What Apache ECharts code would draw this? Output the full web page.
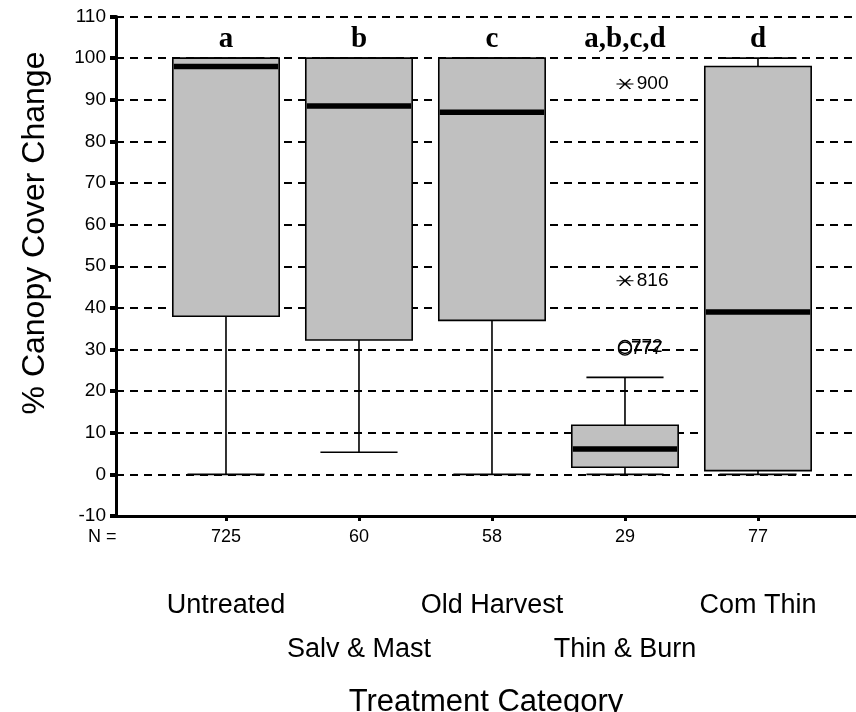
<!DOCTYPE html>
<html>
<head>
<meta charset="utf-8">
<script src="https://cdn.jsdelivr.net/npm/echarts@6/dist/echarts.min.js"></script>
<style>html,body{margin:0;padding:0;background:#fff;}#c{width:856px;height:712px;}</style>
</head>
<body>
<div id="c"></div>
<script>
// ---- data ----
var categories = ['Untreated', 'Salv & Mast', 'Old Harvest', 'Thin & Burn', 'Com Thin'];
var nCounts = ['725', '60', '58', '29', '77'];
// [low whisker, Q1, median, Q3, high whisker]
var boxStats = [
  [0, 38, 98, 100, 100],
  [5.3, 32.3, 88.5, 100, 100],
  [0, 37, 87, 100, 100],
  [0, 1.7, 6.1, 11.8, 23.3],
  [0, 0.9, 39, 98, 100]
];
var groupLetters = ['a', 'b', 'c', 'a,b,c,d', 'd'];
var extremes = [[4, 93.8, '900'], [4, 46.5, '816']];        // stars
var outliers = [[4, 30.2, '777'], [4, 30.6, '772']];        // circles
var yTicks = { min: -10, max: 110, step: 10 };

var xMin = 0.173, xMax = 5.737;
var positions = categories.map(function (c, i) { return i + 1; });

var chart = echarts.init(document.getElementById('c'), null, { renderer: 'canvas' });
var sans = 'Liberation Sans';

var boxData = boxStats.map(function (s, i) { return [i + 1].concat(s); });

function renderBox(params, api) {
  var x = api.value(0);
  var lo = api.coord([x, api.value(1)]);
  var q1 = api.coord([x, api.value(2)]);
  var md = api.coord([x, api.value(3)]);
  var q3 = api.coord([x, api.value(4)]);
  var hi = api.coord([x, api.value(5)]);
  var bw = api.size([0.8, 0])[0];
  var cw = api.size([0.58, 0])[0];
  var cx = q1[0];
  var ls = { stroke: '#000', lineWidth: 1.6 };
  var children = [];
  children.push({ type: 'line', shape: { x1: cx, y1: lo[1], x2: cx, y2: q1[1] }, style: ls });
  children.push({ type: 'line', shape: { x1: cx, y1: q3[1], x2: cx, y2: hi[1] }, style: ls });
  children.push({ type: 'line', shape: { x1: cx - cw / 2, y1: lo[1], x2: cx + cw / 2, y2: lo[1] }, style: ls });
  children.push({ type: 'line', shape: { x1: cx - cw / 2, y1: hi[1], x2: cx + cw / 2, y2: hi[1] }, style: ls });
  children.push({ type: 'rect', shape: { x: cx - bw / 2, y: q3[1], width: bw, height: q1[1] - q3[1] },
    style: { fill: '#c0c0c0', stroke: '#000', lineWidth: 1.6 } });
  children.push({ type: 'rect', shape: { x: cx - bw / 2 + 1, y: md[1] - 2.75, width: bw - 2, height: 5.5 },
    style: { fill: '#000' } });
  return { type: 'group', children: children };
}

var starPath = 'path://M0,0L10,10M10,0L0,10M-3,5L13,5';

var option = {
  backgroundColor: '#fff',
  animation: false,
  grid: { left: 116, right: 0, top: 16.5, bottom: 196, outerBoundsMode: 'none', containLabel: false },
  xAxis: [
    {
      type: 'value', min: xMin, max: xMax,
      axisLine: { show: true, onZero: false, lineStyle: { color: '#000', width: 3 } },
      axisTick: { show: true, customValues: positions, length: 5, lineStyle: { color: '#000', width: 3 } },
      axisLabel: { show: true, customValues: positions, margin: 12, color: '#000', fontFamily: sans, fontSize: 18,
        formatter: function (v) { return nCounts[Math.round(v) - 1]; } },
      splitLine: { show: false }
    },
    {
      type: 'value', min: xMin, max: xMax, position: 'bottom', offset: 76,
      axisLine: { show: false, onZero: false }, axisTick: { show: false }, splitLine: { show: false },
      axisLabel: { show: true, customValues: [1, 3, 5], margin: 0, color: '#000', fontFamily: sans, fontSize: 27,
        formatter: function (v) { return categories[Math.round(v) - 1]; } }
    },
    {
      type: 'value', min: xMin, max: xMax, position: 'bottom', offset: 120,
      axisLine: { show: false, onZero: false }, axisTick: { show: false }, splitLine: { show: false },
      axisLabel: { show: true, customValues: [2, 4], margin: 0, color: '#000', fontFamily: sans, fontSize: 27,
        formatter: function (v) { return categories[Math.round(v) - 1]; } },
      name: 'Treatment Category', nameLocation: 'middle', nameGap: 51,
      nameTextStyle: { color: '#000', fontFamily: sans, fontSize: 31, verticalAlign: 'top' }
    }
  ],
  yAxis: {
    type: 'value', min: yTicks.min, max: yTicks.max, interval: yTicks.step,
    axisLine: { show: true, onZero: false, lineStyle: { color: '#000', width: 3 } },
    axisTick: { show: true, length: 6, lineStyle: { color: '#000', width: 4 } },
    axisLabel: { margin: 10, color: '#000', fontFamily: sans, fontSize: 19 },
    splitLine: { show: true, lineStyle: { color: '#000', width: 2, type: [8, 6] } }
  },
  graphic: [
    { type: 'text', left: 88, top: 528, style: { text: 'N =', fill: '#000', font: '18px ' + sans } },
    { type: 'text', x: 35, y: 233, rotation: Math.PI / 2,
      style: { text: '% Canopy Cover Change', fill: '#000', font: '32px ' + sans, align: 'center', verticalAlign: 'middle' } }
  ],
  series: [
    {
      type: 'custom', renderItem: renderBox, data: boxData, z: 3,
      encode: { x: 0, y: [1, 2, 3, 4, 5] }
    },
    {
      type: 'scatter', z: 4, symbol: starPath, symbolSize: [17, 10],
      itemStyle: { color: 'none', borderColor: '#000', borderWidth: 1.4, opacity: 1 },
      label: { show: true, position: 'right', distance: 0, color: '#000', fontFamily: sans, fontSize: 19,
        formatter: function (p) { return p.value[2]; } },
      data: extremes
    },
    {
      type: 'scatter', z: 4, symbol: 'circle', symbolSize: 13,
      itemStyle: { color: 'none', borderColor: '#000', borderWidth: 1.4, opacity: 1 },
      label: { show: true, position: 'right', distance: -3, color: '#000', fontFamily: sans, fontSize: 19,
        formatter: function (p) { return p.value[2]; } },
      data: outliers
    },
    {
      type: 'scatter', z: 5, symbolSize: 0, itemStyle: { opacity: 1 },
      label: { show: true, position: 'inside', color: '#000', fontFamily: 'Liberation Serif', fontWeight: 'bold', fontSize: 29,
        formatter: function (p) { return p.value[2]; } },
      data: groupLetters.map(function (l, i) { return [i + 1, 104.4, l]; })
    }
  ]
};
chart.setOption(option);
</script>
</body>
</html>
